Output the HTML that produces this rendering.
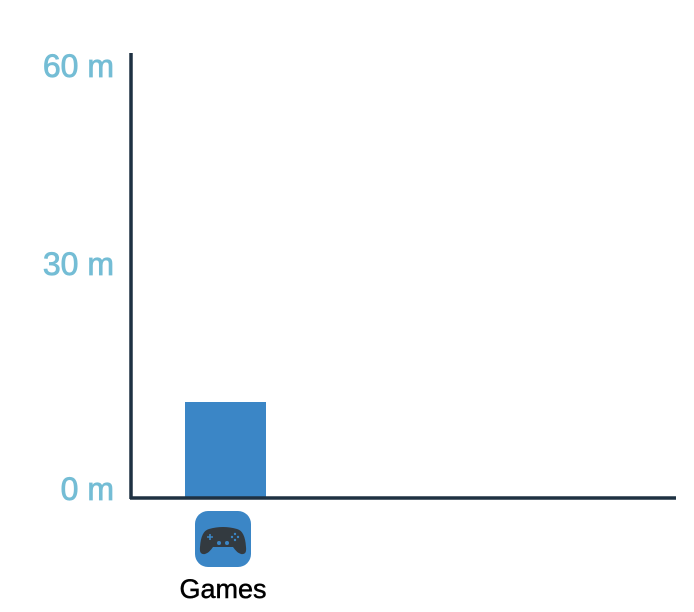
<!DOCTYPE html>
<html><head><meta charset="utf-8"><style>
html,body{margin:0;padding:0;background:#fff;}
svg{display:block;font-family:"Liberation Sans",sans-serif;}
</style></head><body>
<svg id="chart" width="694" height="612">
<g id="ticks"></g>
<g id="bars"></g>
<line x1="131" y1="53" x2="131" y2="499" stroke="#1e3142" stroke-width="3.5"/>
<line x1="130" y1="498" x2="676" y2="498" stroke="#1e3142" stroke-width="3.5"/>
<g transform="translate(195,511)">
<rect width="56" height="56" rx="13" fill="#3b86c6"/>
<path d="M14 18 Q28 14 42 18 Q50 20 51 36 Q52 44 46 43 Q42 42 38 36 L18 36 Q14 42 10 43 Q4 44 5 36 Q6 20 14 18Z" fill="#333a40"/>
<path d="M12 26h6M15 23v6" stroke="#3b86c6" stroke-width="1.6"/>
<circle cx="40" cy="23" r="1.2" fill="#3b86c6"/><circle cx="40" cy="29" r="1.2" fill="#3b86c6"/>
<circle cx="37" cy="26" r="1.2" fill="#3b86c6"/><circle cx="43" cy="26" r="1.2" fill="#3b86c6"/>
<circle cx="24" cy="32" r="2" fill="#3b86c6"/><circle cx="32" cy="32" r="2" fill="#3b86c6"/>
</g>
<text x="223" y="598" text-anchor="middle" font-size="27" fill="#000" stroke="#000" stroke-width="0.5">Games</text>
</svg>
<script>
const categories = ["Games"];
const values = [12.8];
const tickValues = [0, 30, 60];
const tickLabels = ["0 m", "30 m", "60 m"];
const NS = "http://www.w3.org/2000/svg";
function y(v){ return 498 - v * 7.5; }
function x(i){ return 185 + i * 110; }
const bw = 81;
const bars = document.getElementById("bars");
values.forEach((v, i) => {
  const r = document.createElementNS(NS, "rect");
  r.setAttribute("x", x(i));
  r.setAttribute("y", y(v));
  r.setAttribute("width", bw);
  r.setAttribute("height", 498 - y(v));
  r.setAttribute("fill", "#3b86c6");
  
  
  bars.appendChild(r);
});
const ticks = document.getElementById("ticks");
tickValues.forEach((v, i) => {
  const t = document.createElementNS(NS, "text");
  t.setAttribute("x", 114);
  t.setAttribute("y", Math.max(y(v) + 2, 77));
  t.setAttribute("text-anchor", "end");
  t.setAttribute("font-size", "32");
  t.setAttribute("fill", "#74bdd5");
  t.setAttribute("stroke", "#74bdd5");
  t.setAttribute("stroke-width", "0.8");
  t.textContent = tickLabels[i];
  
  
  ticks.appendChild(t);
});
</script>
</body></html>
